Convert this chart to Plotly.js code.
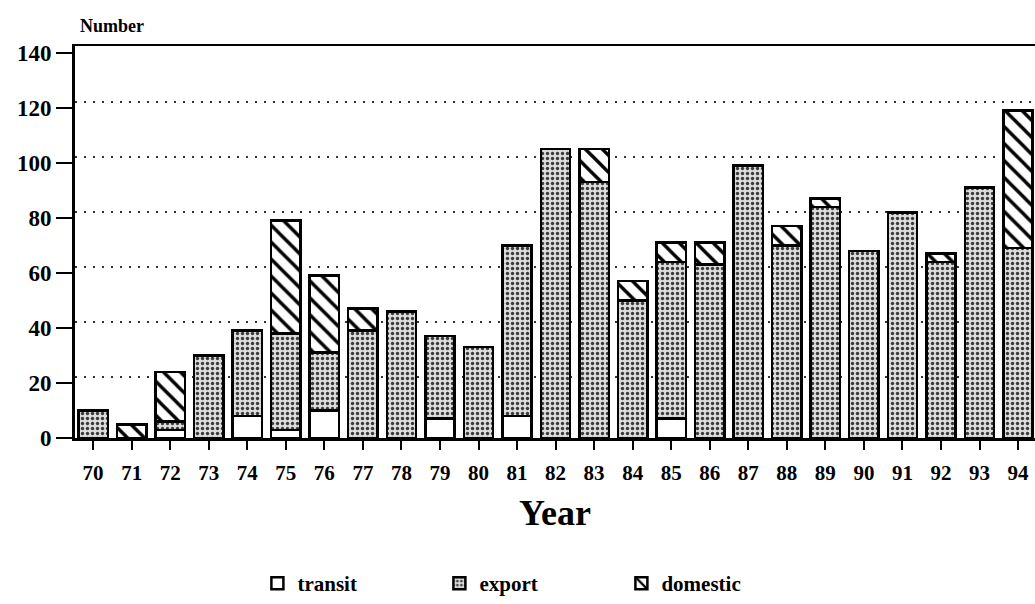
<!DOCTYPE html>
<html>
<head>
<meta charset="utf-8">
<script src="https://cdn.plot.ly/plotly-3.0.1.min.js"></script>
<style>html,body{margin:0;padding:0;background:#fff;}#chart{width:1035px;height:604px;}</style>
</head>
<body>
<div id="chart"></div>
<script>
const years = ['70','71','72','73','74','75','76','77','78','79','80','81','82','83','84','85','86','87','88','89','90','91','92','93','94'];
const transit  = [0, 0, 3, 0, 8, 3, 10, 0, 0, 7, 0, 8, 0, 0, 0, 7, 0, 0, 0, 0, 0, 0, 0, 0, 0];
const exportV  = [10, 0, 3, 30, 31, 35, 21, 39, 46, 30, 33, 62, 105, 93, 50, 57, 63, 99, 70, 84, 68, 82, 64, 91, 69];
const domestic = [0, 5, 18, 0, 0, 41, 28, 8, 0, 0, 0, 0, 0, 12, 7, 7, 8, 0, 7, 3, 0, 0, 3, 0, 50];
const yTicks = [0, 20, 40, 60, 80, 100, 120, 140];
const gridTicks = [20, 40, 60, 80, 100, 120];

const serif = '"Liberation Serif", "Times New Roman", serif';
const line = {color: '#000', width: 2.5};
const W = 0.76;

const traces = [
  {type: 'bar', name: 'transit', x: years, y: transit, width: W,
   marker: {color: '#ffffff', line: line}},
  {type: 'bar', name: 'export', x: years, y: exportV, width: W,
   marker: {color: '#d9d9d9', line: line,
            pattern: {shape: '.', fgcolor: '#3a3a3a', bgcolor: '#dcdcdc', size: 5, solidity: 0.35}}},
  {type: 'bar', name: 'domestic', x: years, y: domestic, width: W,
   marker: {color: '#ffffff', line: line,
            pattern: {shape: '\\', fgcolor: '#000', bgcolor: '#fff', size: 12, solidity: 0.28}}},
  // empty helper so the back-wall grid axis (y2) is drawn
  {type: 'scatter', x: [], y: [], yaxis: 'y2', showlegend: false, hoverinfo: 'skip'}
];

const layout = {
  width: 1035, height: 604,
  margin: {l: 75, r: 0, t: 46, b: 165},
  paper_bgcolor: '#fff', plot_bgcolor: 'rgba(0,0,0,0)',
  barmode: 'stack',
  font: {family: serif, color: '#000'},
  showlegend: true,
  legend: {orientation: 'h', x: 0.19, xanchor: 'left', y: -0.37, yanchor: 'middle',
           font: {family: serif, size: 21, color: '#000', weight: 'bold'},
           entrywidth: 137, traceorder: 'normal'},
  xaxis: {type: 'category', range: [-0.47, 24.44], showgrid: false, zeroline: false,
          showline: true, linecolor: '#000', linewidth: 2.5, mirror: true,
          ticks: 'outside', ticklen: 9, tickwidth: 2, tickcolor: '#000',
          tickfont: {family: serif, size: 21, color: '#000', weight: 'bold'},
          ticklabelstandoff: 5,
          title: {text: 'Year', standoff: 16, font: {family: serif, size: 36, color: '#000', weight: 'bold'}}},
  yaxis: {range: [0, 142.5], tickvals: yTicks, ticktext: yTicks.map(String),
          showgrid: false, zeroline: false, showline: true, linecolor: '#000', linewidth: 3,
          ticks: 'outside', ticklen: 16, tickwidth: 2.5, tickcolor: '#000',
          tickfont: {family: serif, size: 23, color: '#000', weight: 'bold'}},
  yaxis2: {overlaying: 'y', range: [-2.2, 140.3], tickvals: gridTicks, showticklabels: false,
           showgrid: true, griddash: '2px,7px', gridcolor: '#333', gridwidth: 2.5,
           zeroline: false, showline: false, ticks: ''},
  annotations: [
    {text: 'Number', xref: 'paper', yref: 'paper', x: 0.003, y: 1.05, xanchor: 'left', yanchor: 'middle',
     showarrow: false, font: {family: serif, size: 18, color: '#000', weight: 'bold'}}
  ]
};

Plotly.newPlot('chart', traces, layout, {displayModeBar: false, staticPlot: true});
</script>
</body>
</html>
